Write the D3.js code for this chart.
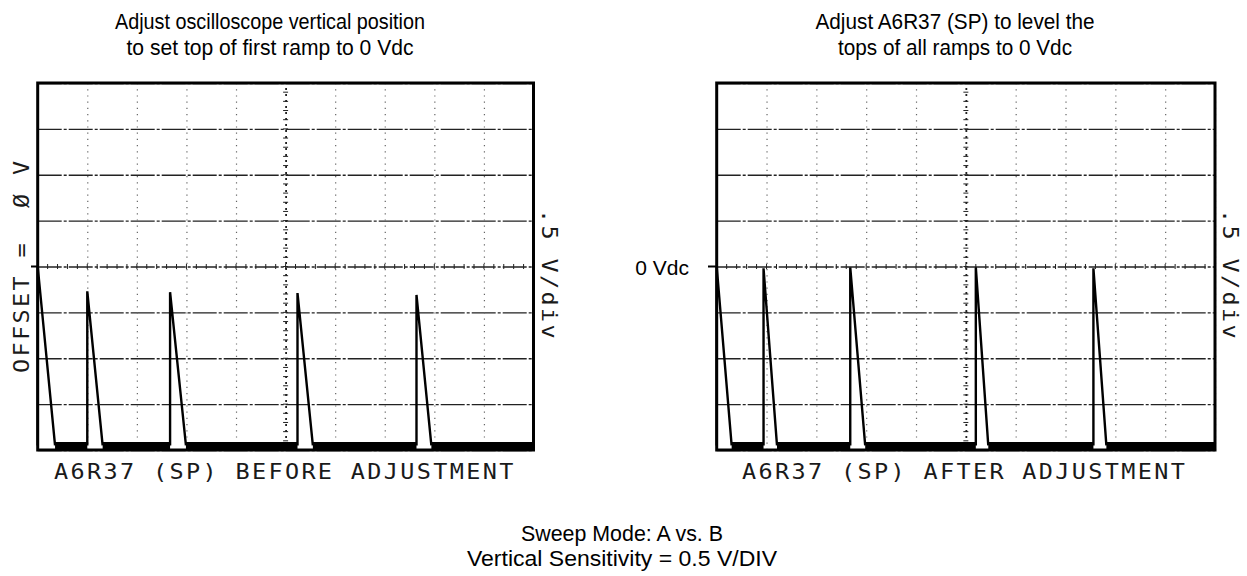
<!DOCTYPE html>
<html><head><meta charset="utf-8">
<script src="https://cdn.jsdelivr.net/npm/d3@7"></script>
<style>body{margin:0;background:#fff}svg{display:block}</style>
</head><body><svg id="c" width="1247" height="576"></svg>
<script>
// ---- data ----
const divisionsX = [0,1,2,3,4,5,6,7,8,9,10];
const voltTicks = [-2,-1.5,-1,-0.5,0,0.5,1,1.5,2];
const baselineVolts = -1.95;
const beforeRampStart = [0, 1.0, 2.67, 5.24, 7.64];
const beforeRampWidth = [0.35, 0.31, 0.32, 0.31, 0.30];
const beforeRampPeak  = [0, -0.27, -0.28, -0.29, -0.31];
const afterRampStart = [0, 0.94, 2.68, 5.2, 7.56];
const afterRampWidth = [0.30, 0.27, 0.30, 0.25, 0.26];
const afterRampPeak  = [0, -0.02, -0.01, -0.01, -0.02];
const leftTitle = ["Adjust oscilloscope vertical position", "to set top of first ramp to 0 Vdc"];
const rightTitle = ["Adjust A6R37 (SP) to level the", "tops of all ramps to 0 Vdc"];
const footer = ["Sweep Mode: A vs. B", "Vertical Sensitivity = 0.5 V/DIV"];
const leftCaption = "A6R37 (SP) BEFORE ADJUSTMENT";
const rightCaption = "A6R37 (SP) AFTER ADJUSTMENT";
const leftSideLabel = "OFFSET =  Ø V";
const sensLabel = ".5 V/div";
const zeroLabel = "0 Vdc";

// ---- drawing ----
const svg = d3.select("#c");
svg.append("rect").attr("width",1247).attr("height",576).attr("fill","#fff");
const y = d3.scaleLinear().domain([-2, 2]).range([450, 83]);
const sansFont = "'Liberation Sans', Arial, sans-serif";
const plotFont = "'DejaVu Sans Mono', monospace";
const plotStretch = 1.12;
const plotSpacing = 16.5 / plotStretch - 21 * 0.602;

function plotText(sel, tx, ty, rot, str) {
  sel.append("text")
    .attr("transform", `translate(${tx},${ty}) rotate(${rot}) scale(${plotStretch},1)`)
    .attr("font-family", plotFont).attr("font-size", 21).attr("letter-spacing", plotSpacing)
    .attr("fill", "#1a1a1a").style("white-space", "pre").text(str);
}

function panel(xRange, starts, widths, peaks, caption, capX, sideX, zeroTickX) {
  const x = d3.scaleLinear().domain([0, 10]).range(xRange);
  const g = svg.append("g");
  const [x0, x1] = xRange;
  const top = y(2), bot = y(-2);

  const hg = g.append("g").attr("transform", `translate(${x0},0)`)
    .call(d3.axisLeft(y).tickValues(voltTicks).tickSize(-(x1 - x0)).tickFormat(""));
  hg.select(".domain").remove();
  hg.selectAll(".tick line").attr("stroke", "#222").attr("stroke-width", 1.3)
    .attr("stroke-dasharray", "24,2,3,2");

  const vg = g.append("g").attr("transform", `translate(0,${bot})`)
    .call(d3.axisBottom(x).tickValues(divisionsX).tickSize(-(bot - top)).tickFormat(""));
  vg.select(".domain").remove();
  vg.selectAll(".tick line").attr("stroke", d => d === 5 ? "#222" : "#666")
    .attr("stroke-width", d => d === 5 ? 1.8 : 1.2)
    .attr("stroke-dasharray", d => d === 5 ? "2,4" : "1.2,5");

  g.append("g").selectAll("line").data(d3.range(0, 10.001, 0.2)).join("line")
    .attr("x1", d => x(d)).attr("x2", d => x(d))
    .attr("y1", y(0) - 2.5).attr("y2", y(0) + 2.5)
    .attr("stroke", "#222").attr("stroke-width", 1);
  g.append("g").selectAll("line").data(d3.range(-2, 2.001, 0.1)).join("line")
    .attr("x1", x(5) - 2.5).attr("x2", x(5) + 2.5)
    .attr("y1", d => y(d)).attr("y2", d => y(d))
    .attr("stroke", "#222").attr("stroke-width", 1);
  g.append("line").attr("x1", zeroTickX).attr("x2", x0).attr("y1", y(0)).attr("y2", y(0))
    .attr("stroke", "#000").attr("stroke-width", 2);

  const ramps = starts.map((s, i) => ({s, w: widths[i], p: peaks[i],
    next: i + 1 < starts.length ? starts[i + 1] : 10}));
  const line = d3.line().x(d => x(d[0])).y(d => y(d[1]));
  g.append("g").selectAll("path").data(ramps).join("path")
    .attr("d", r => line([[r.s + r.w, baselineVolts], [r.next, baselineVolts]]))
    .attr("stroke", "#000").attr("stroke-width", 7).attr("fill", "none");
  g.append("g").selectAll("path").data(ramps).join("path")
    .attr("d", r => line([[r.s, baselineVolts], [r.s, r.p], [r.s + r.w, baselineVolts]]))
    .attr("stroke", "#000").attr("stroke-width", 2.4).attr("fill", "none");

  g.append("rect").attr("x", x0).attr("y", top).attr("width", x1 - x0).attr("height", bot - top)
    .attr("fill", "none").attr("stroke", "#000").attr("stroke-width", 3);

  plotText(g, capX, 478.5, 0, caption);
  plotText(g, sideX, 209, 90, sensLabel);
  return x;
}

panel([37.7, 533.5], beforeRampStart, beforeRampWidth, beforeRampPeak, leftCaption, 54, 541.5, 31);
panel([716.7, 1215], afterRampStart, afterRampWidth, afterRampPeak, rightCaption, 742, 1222.5, 708);

plotText(svg, 29.3, 373, -90, leftSideLabel);

svg.append("text").attr("x", 689).attr("y", 275).attr("text-anchor", "end")
  .attr("font-family", sansFont).attr("font-size", 21).attr("fill", "#000").text(zeroLabel);

function block(lines, lengths, cx, y0, dy, size) {
  svg.append("g").selectAll("text").data(lines).join("text")
    .attr("x", cx).attr("y", (d, i) => y0 + i * dy).attr("text-anchor", "middle")
    .attr("font-family", sansFont).attr("font-size", size).attr("fill", "#000")
    .attr("textLength", (d, i) => lengths[i]).attr("lengthAdjust", "spacingAndGlyphs")
    .text(d => d);
}
block(leftTitle, [310, 287], 270, 29, 26, 22);
block(rightTitle, [279, 234], 955, 29, 26, 22);
block(footer, [202, 310], 622, 541, 25, 22);
</script></body></html>
